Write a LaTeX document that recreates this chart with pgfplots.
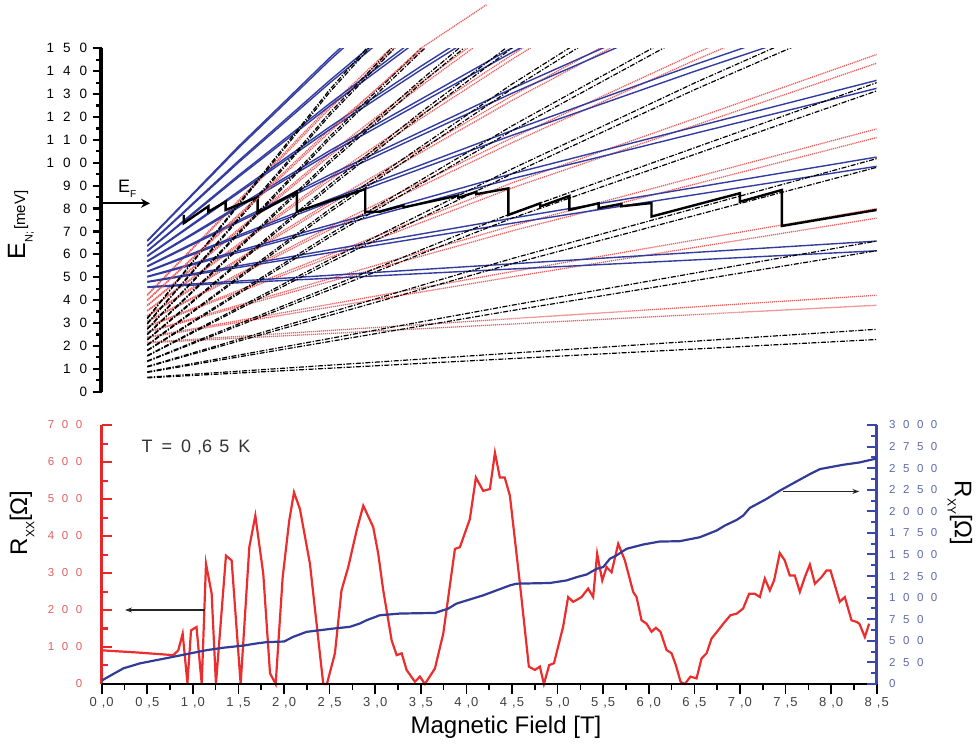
\documentclass[border=0pt]{standalone}
\usepackage{pgfplots}
\pgfplotsset{compat=1.18}
\usepackage{fontspec}
\setmainfont{Liberation Sans}
\usetikzlibrary{arrows.meta}

\definecolor{axred}{RGB}{230,40,40}
\definecolor{labred}{RGB}{225,95,95}
\definecolor{axblue}{RGB}{60,70,170}
\definecolor{labblue}{RGB}{95,105,170}
\definecolor{llblue}{RGB}{50,60,160}
\definecolor{llred}{RGB}{235,95,95}
\definecolor{rxxc}{RGB}{235,45,45}
\definecolor{rxyc}{RGB}{50,60,150}

\newcommand\ga{\hspace{9pt}}
\newcommand\gb{\hspace{7.5pt}}
\newcommand\xl[2]{#1\hspace{5pt},\hspace{1pt}#2}

\pgfplotsset{
 blk/.style={black, line width=1.2pt, dash pattern=on 5pt off 1.6pt on 1.3pt off 1.6pt},
 rdl/.style={llred, line width=1.3pt, dash pattern=on 1.2pt off 0.8pt},
 bll/.style={llblue, line width=1.4pt},
}

\begin{document}
\begin{tikzpicture}
\path[use as bounding box] (0,0) rectangle (978pt,745pt);

%================ TOP PANEL ================
\begin{axis}[at={(101.7pt,353.3pt)}, anchor=south west, scale only axis,
  width=775pt, height=343.4pt, xmin=0, xmax=8.5, ymin=0, ymax=150,
  axis lines*=left, hide x axis,
  axis line style={black, line width=3pt},
  ytick={0,10,...,150}, minor y tick num=1,
  tick align=outside, major tick length=9pt, minor tick length=6pt,
  y tick style={black, line width=2.2pt},
  yticklabels={0,1\ga0,2\ga0,3\ga0,4\ga0,5\ga0,6\ga0,7\ga0,8\ga0,9\ga0,1\ga0\ga0,1\ga1\ga0,1\ga2\ga0,1\ga3\ga0,1\ga4\ga0,1\ga5\ga0},
  yticklabel style={font=\fontsize{13.5}{13.5}\selectfont, xshift=-2pt}]
% red (subband 2)
\addplot[rdl] coordinates {(0.5,21.30)(4.5,29.57)(8.5,37.76)};
\addplot[rdl] coordinates {(0.5,21.56)(4.5,31.91)(8.5,42.13)};
\addplot[rdl] coordinates {(0.5,23.64)(4.5,50.16)(8.5,75.81)};
\addplot[rdl] coordinates {(0.5,23.90)(4.5,52.45)(8.5,79.97)};
\addplot[rdl] coordinates {(0.5,25.97)(4.5,70.22)(8.5,111.0)};
\addplot[rdl] coordinates {(0.5,26.23)(4.5,72.45)(8.5,114.8)};
\addplot[rdl] coordinates {(0.5,28.29)(4.5,89.0)(8.5,143.5)};
\addplot[rdl] coordinates {(0.5,28.55)(4.5,91.2)(8.5,147.3)};
\addplot[rdl] coordinates {(0.5,30.61)(2.5,70.72)(4.5,108.75)(6.5,144.71)(8.5,178.6)};
\addplot[rdl] coordinates {(0.5,30.87)(2.5,71.95)(4.5,110.86)(6.5,147.58)(8.5,182.1)};
\addplot[rdl] coordinates {(0.5,32.92)(2.5,81.63)(4.5,127.22)(6.5,169.7)};
\addplot[rdl] coordinates {(0.5,33.18)(2.5,82.84)(4.5,129.26)(6.5,172.4)};
\addplot[rdl] coordinates {(0.5,35.23)(2.5,92.37)(3.5,119.31)(4.5,145.15)(5.5,169.9)};
\addplot[rdl] coordinates {(0.5,35.49)(2.5,93.57)(3.5,120.92)(4.5,147.14)(5.5,172.2)};
\addplot[rdl] coordinates {(0.5,37.53)(2.5,102.95)(3.5,133.48)(4.5,162.55)};
\addplot[rdl] coordinates {(0.5,37.78)(2.5,104.13)(3.5,135.05)(4.5,164.48)};
\addplot[rdl] coordinates {(0.5,40.08)(2.5,114.53)(3.5,148.87)(4.5,181.3)};
\addplot[rdl] coordinates {(0.5,42.10)(2.5,123.62)(3.5,160.86)};
\addplot[rdl] coordinates {(0.5,42.36)(2.5,124.76)(3.5,162.36)};
% blue (subband 3)
\addplot[bll] coordinates {(0.5,45.56)(4.5,53.59)(8.5,61.54)};
\addplot[bll] coordinates {(0.5,45.81)(4.5,55.86)(8.5,65.78)};
\addplot[bll] coordinates {(0.5,47.83)(4.5,73.58)(8.5,98.45)};
\addplot[bll] coordinates {(0.5,48.08)(4.5,75.79)(8.5,102.49)};
\addplot[bll] coordinates {(0.5,50.09)(4.5,93.04)(8.5,132.5)};
\addplot[bll] coordinates {(0.5,50.35)(4.5,95.19)(8.5,136.0)};
\addplot[bll] coordinates {(0.5,52.35)(2.5,82.78)(4.5,111.96)(6.5,139.9)(8.5,166.6)};
\addplot[bll] coordinates {(0.5,52.60)(2.5,83.99)(4.5,114.06)(6.5,142.8)(8.5,170.2)};
\addplot[bll] coordinates {(0.5,54.60)(2.5,93.51)(4.5,130.36)(6.5,165.1)};
\addplot[bll] coordinates {(0.5,54.85)(2.5,94.71)(4.5,132.39)(6.5,167.9)};
\addplot[bll] coordinates {(0.5,56.84)(2.5,104.09)(4.5,148.2)(5.5,169.1)};
\addplot[bll] coordinates {(0.5,57.10)(2.5,105.27)(4.5,150.2)(5.5,171.4)};
\addplot[bll] coordinates {(0.5,59.08)(2.5,114.50)(3.5,140.57)(4.5,165.55)};
\addplot[bll] coordinates {(0.5,59.33)(2.5,115.66)(3.5,142.13)(4.5,167.47)};
\addplot[bll] coordinates {(0.5,61.31)(1.5,93.75)(2.5,124.74)(3.5,154.27)};
\addplot[bll] coordinates {(0.5,61.56)(1.5,94.47)(2.5,125.88)(3.5,155.79)};
\addplot[bll] coordinates {(0.5,63.54)(1.5,100.12)(2.5,134.82)(3.5,167.65)};
\addplot[bll] coordinates {(0.5,63.79)(1.5,100.83)(2.5,135.95)(3.5,169.14)};
\addplot[bll] coordinates {(0.5,65.76)(1.5,106.42)(2.5,144.74)(3.5,180.7)};
\addplot[bll] coordinates {(0.5,66.00)(1.5,107.12)(2.5,145.84)(3.5,182.2)};
% black (subband 1)
\addplot[blk] coordinates {(0.5,6.04)(4.5,14.46)(8.5,22.80)};
\addplot[blk] coordinates {(0.5,6.31)(4.5,16.85)(8.5,27.26)};
\addplot[blk] coordinates {(0.5,8.42)(4.5,35.44)(8.5,61.58)};
\addplot[blk] coordinates {(0.5,8.69)(4.5,37.77)(8.5,65.82)};
\addplot[blk] coordinates {(0.5,10.80)(4.5,55.88)(8.5,98.0)};
\addplot[blk] coordinates {(0.5,11.06)(4.5,58.15)(8.5,101.8)};
\addplot[blk] coordinates {(0.5,13.17)(4.5,75.79)(8.5,131.4)};
\addplot[blk] coordinates {(0.5,13.43)(4.5,78.00)(8.5,135.0)};
\addplot[blk] coordinates {(0.5,15.53)(2.5,56.39)(4.5,95.17)(6.5,131.88)(8.5,166.52)};
\addplot[blk] coordinates {(0.5,15.79)(2.5,57.65)(4.5,97.32)(6.5,134.81)(8.5,170.12)};
\addplot[blk] coordinates {(0.5,17.88)(2.5,67.51)(4.5,114.02)(6.5,157.42)};
\addplot[blk] coordinates {(0.5,18.14)(2.5,68.75)(4.5,116.11)(6.5,160.22)};
\addplot[blk] coordinates {(0.5,20.23)(2.5,78.46)(4.5,132.33)(6.5,181.85)};
\addplot[blk] coordinates {(0.5,20.49)(2.5,79.68)(4.5,134.36)(6.5,184.52)};
\addplot[blk] coordinates {(0.5,22.57)(2.5,89.25)(3.5,120.41)(4.5,150.12)(5.0,165)};
\addplot[blk] coordinates {(0.5,22.83)(2.5,90.46)(3.5,122.02)(4.5,152.09)};
\addplot[blk] coordinates {(0.5,24.90)(2.5,99.88)(3.5,134.56)(4.5,167.37)};
\addplot[blk] coordinates {(0.5,25.16)(2.5,101.07)(3.5,136.13)(4.5,169.28)};
\addplot[blk] coordinates {(0.5,27.23)(2.5,110.34)(3.5,148.39)(4.5,184.09)};
\addplot[blk] coordinates {(0.5,27.49)(2.5,111.51)(3.5,149.92)(4.5,185.94)};
\addplot[blk] coordinates {(0.5,29.55)(2.5,120.64)(3.5,161.9)};
\addplot[blk] coordinates {(0.5,29.81)(2.5,121.79)(3.5,163.4)};
\addplot[blk] coordinates {(0.5,31.86)(2.5,130.78)(3.5,175.08)};
\addplot[blk] coordinates {(0.5,32.12)(2.5,131.91)(3.5,176.54)};
% Fermi energy
\addplot[black, line width=2.4pt] coordinates {
(0.9,77.2)(0.9,73.6)(1.17,81.0)(1.17,78.6)(1.36,83.0)(1.36,79.4)(1.71,85.0)(1.71,77.9)
(2.14,87.5)(2.14,78.6)(2.89,88.5)(2.89,78.6)(3.05,78.6)(3.31,81.4)(3.31,80.5)(3.91,85.7)
(3.91,84.7)(4.11,87.3)(4.11,86.3)(4.46,88.8)(4.46,77.2)(4.81,82.3)(4.81,80.9)(5.13,85.5)
(5.13,79.4)(5.45,82.3)(5.45,80.2)(5.70,82.0)(5.70,81.0)(6.03,82.4)(6.03,76.5)(7.00,86.7)
(7.00,83.0)(7.46,88.1)(7.46,72.4)(8.5,79.4)};
\draw[black, line width=2pt, -{Stealth[length=9pt,width=9pt]}] (axis cs:0,82.3) -- (axis cs:0.53,82.3);
\end{axis}

% overlay: y axis line and the one red level drawn past the top
\begin{axis}[at={(101.7pt,353.3pt)}, anchor=south west, scale only axis,
  width=775pt, height=343.4pt, xmin=0, xmax=8.5, ymin=0, ymax=150,
  hide axis, clip=false]
\addplot[rdl] coordinates {(0.5,39.82)(2.5,113.37)(3.5,150.0)(4.22,169.0)};
\draw[black, line width=3pt] (axis cs:-0.01,-0.3) -- (axis cs:-0.01,150.3);
\end{axis}

%================ BOTTOM PANEL: Rxx ================
\begin{axis}[at={(101.7pt,61pt)}, anchor=south west, scale only axis,
  width=775pt, height=259pt, xmin=0, xmax=8.5, ymin=0, ymax=700,
  clip=false,
  axis lines*=left,
  axis line style={line width=2.5pt},
  every outer x axis line/.append style={black},
  every outer y axis line/.append style={axred},
  xtick={0,0.5,...,8.5}, minor x tick num=1,
  ytick={0,100,...,700}, minor y tick num=1,
  xtick align=outside, ytick align=inside,
  major tick length=10pt, minor tick length=6pt,
  x tick style={black, line width=1.6pt},
  y tick style={axred, line width=2pt},
  xticklabels={{\xl00},{\xl05},{\xl10},{\xl15},{\xl20},{\xl25},{\xl30},{\xl35},{\xl40},{\xl45},{\xl50},{\xl55},{\xl60},{\xl65},{\xl70},{\xl75},{\xl80},{\xl85}},
  xticklabel style={black!75, font=\fontsize{13}{13}\selectfont},
  yticklabels={0,1\gb0\gb0,2\gb0\gb0,3\gb0\gb0,4\gb0\gb0,5\gb0\gb0,6\gb0\gb0,7\gb0\gb0},
  yticklabel style={labred, font=\fontsize{11.5}{11.5}\selectfont, xshift=-16pt}]
\addplot[rxxc, line width=2.2pt] coordinates {
(0,91)(0.4,85)(0.785,78)(0.84,91)(0.888,136)(0.94,3)(0.98,145)(1.04,154)(1.097,0)(1.144,325)
(1.206,244)(1.253,0)(1.363,347)(1.425,334)(1.524,0)(1.619,370)(1.685,455)(1.772,298)(1.846,29)(1.908,0)
(1.985,289)(2.057,442)(2.109,518)(2.174,473)(2.284,325)(2.43,0)(2.47,0)(2.558,83)(2.63,253)(2.704,316)
(2.796,415)(2.869,482)(2.978,424)(3.033,352)(3.088,253)(3.18,118)(3.235,78)(3.29,83)(3.344,38)(3.435,6)
(3.49,20)(3.545,0)(3.655,42)(3.746,136)(3.874,365)(3.929,370)(4.038,446)(4.104,558)(4.184,522)(4.258,527)
(4.313,625)(4.367,558)(4.42,558)(4.477,509)(4.587,271)(4.685,47)(4.751,38)(4.806,47)(4.85,0)(4.908,51)
(4.96,56)(5.06,154)(5.116,235)(5.171,222)(5.263,235)(5.335,258)(5.39,235)(5.434,352)(5.49,280)(5.537,316)
(5.592,302)(5.665,379)(5.738,334)(5.829,249)(5.866,235)(5.921,172)(5.976,163)(6.031,141)(6.078,152)(6.129,141)
(6.195,92)(6.25,83)(6.297,51)(6.349,6)(6.396,0)(6.458,20)(6.524,15)(6.579,69)(6.634,83)(6.689,123)
(6.761,145)(6.834,168)(6.897,186)(6.963,190)(7.035,204)(7.101,244)(7.163,244)(7.218,235)(7.273,285)(7.328,253)
(7.375,280)(7.437,354)(7.492,334)(7.547,293)(7.602,293)(7.657,249)(7.712,289)(7.767,323)(7.822,271)(7.895,289)
(7.95,307)(7.993,307)(8.095,222)(8.15,235)(8.224,172)(8.278,168)(8.31,163)(8.37,127)(8.417,163)};
\draw[black!85, line width=1.3pt, -{Stealth[length=7pt,width=5pt]}] (axis cs:1.134,200) -- (axis cs:0.256,200);
\draw[black, line width=2.5pt] (axis cs:0,0) -- (axis cs:8.5,0);
\end{axis}

%================ BOTTOM PANEL: Rxy ================
\begin{axis}[at={(101.7pt,61pt)}, anchor=south west, scale only axis,
  width=775pt, height=259pt, xmin=0, xmax=8.5, ymin=0, ymax=3000,
  axis lines*=right, hide x axis,
  axis line style={axblue, line width=2.5pt},
  ytick={0,250,...,3000}, minor y tick num=1, ytick align=inside,
  major tick length=10pt, minor tick length=6pt,
  y tick style={axblue, line width=2pt},
  yticklabels={0,2\gb5\gb0,5\gb0\gb0,7\gb5\gb0,1\gb0\gb0\gb0,1\gb2\gb5\gb0,1\gb5\gb0\gb0,1\gb7\gb5\gb0,2\gb0\gb0\gb0,2\gb2\gb5\gb0,2\gb5\gb0\gb0,2\gb7\gb5\gb0,3\gb0\gb0\gb0},
  yticklabel style={labblue, font=\fontsize{11.5}{11.5}\selectfont, xshift=9pt}]
\addplot[rxyc, line width=2.2pt] coordinates {
(0,40)(0.237,181)(0.42,239)(0.603,277)(0.785,315)(0.968,354)(1.151,392)(1.333,420)(1.553,445)(1.7,470)
(1.81,485)(2.0,492)(2.1,546)(2.247,604)(2.54,642)(2.72,662)(2.83,700)(2.906,739)(3.05,796)(3.27,816)
(3.655,823)(3.80,873)(3.89,931)(4.184,1027)(4.477,1142)(4.55,1162)(4.915,1170)(5.1,1200)(5.21,1238)(5.32,1269)
(5.43,1335)(5.5,1354)(5.573,1450)(5.645,1489)(5.757,1566)(5.94,1616)(6.12,1650)(6.34,1654)(6.56,1700)(6.743,1777)
(6.834,1835)(6.963,1900)(7.035,1950)(7.108,2039)(7.29,2143)(7.437,2239)(7.62,2346)(7.767,2431)(7.876,2489)(8.13,2539)
(8.31,2566)(8.5,2612)};
\draw[black!85, line width=1.3pt, -{Stealth[length=7pt,width=5pt]}] (axis cs:7.47,2230) -- (axis cs:8.31,2230);
\end{axis}

%================ TEXT ================
\node[rotate=90] at (21pt,520pt) {\fontsize{25}{25}\selectfont E\raisebox{-0.3em}{\fontsize{11}{11}\selectfont N;}\hspace{2pt}\fontsize{15}{15}\selectfont[meV]};
\node[anchor=south west, inner sep=0pt] at (118pt,547pt) {\fontsize{18}{18}\selectfont E\raisebox{-0.3em}{\fontsize{10}{10}\selectfont F}};
\node[rotate=90] at (22pt,222pt) {\fontsize{24}{24}\selectfont R\raisebox{-0.3em}{\fontsize{12}{12}\selectfont XX}[Ω]};
\node[rotate=-90] at (960pt,232pt) {\fontsize{24}{24}\selectfont R\raisebox{-0.3em}{\fontsize{12}{12}\selectfont XY}[Ω]};
\node at (506pt,18pt) {\fontsize{24}{24}\selectfont Magnetic Field [T]};
\node[black!80] at (196pt,298pt) {\fontsize{18}{18}\selectfont T\hspace{9pt}=\hspace{9pt}0\hspace{6pt},6\hspace{7pt}5\hspace{9pt}K};
\end{tikzpicture}
\end{document}
